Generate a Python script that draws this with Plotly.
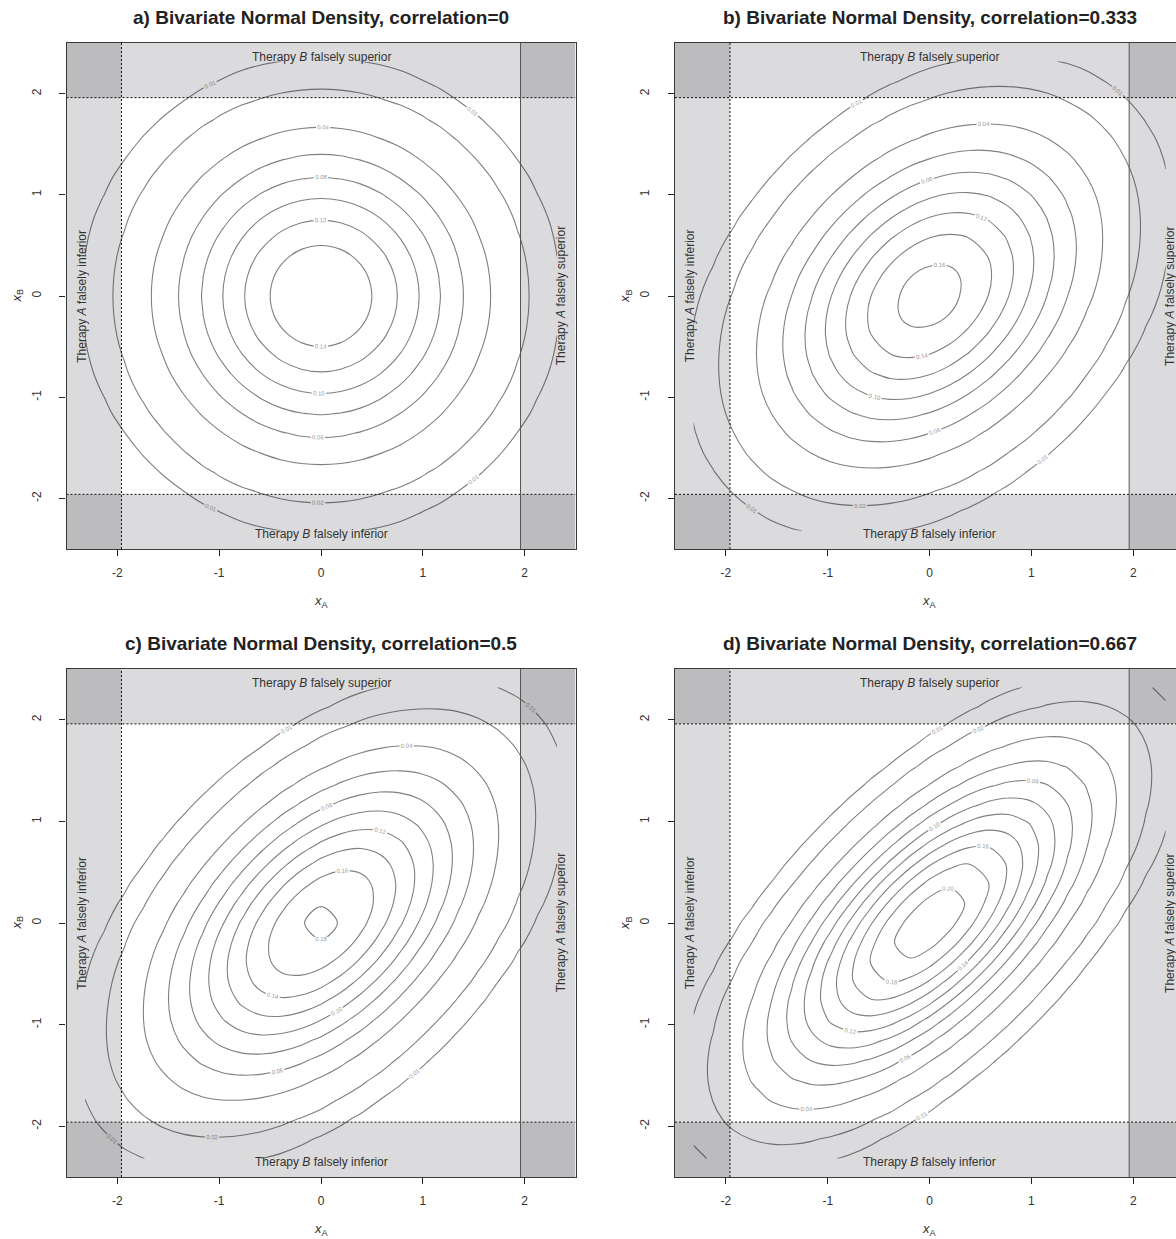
import numpy as np
import plotly.graph_objects as go

# ---------------- data ----------------
correlations = [0.0, 0.333, 0.5, 0.667]
panel_titles = [
    "a) Bivariate Normal Density, correlation=0",
    "b) Bivariate Normal Density, correlation=0.333",
    "c) Bivariate Normal Density, correlation=0.5",
    "d) Bivariate Normal Density, correlation=0.667",
]
outer_level = 0.01                       # single outer contour
inner_levels = [0.02, 0.20, 0.02]        # start, end, step
critical = 1.96
tick_vals = [-2, -1, 0, 1, 2]
tick_text = ["-2", "-1", "0", "1", "2"]
grid_limit = 2.32                         # density evaluated on [-2.32, 2.32]
grid_points = 25
region_labels = {
    "top": "Therapy <i>B</i> falsely superior",
    "bottom": "Therapy <i>B</i> falsely inferior",
    "left": "Therapy <i>A</i> falsely inferior",
    "right": "Therapy <i>A</i> falsely superior",
}

W, H = 1176, 1239
FONT = "Liberation Sans, Arial, sans-serif"
LINE_COL = "#808080"

# panel pixel geometry: (left, right, top, bottom)
panels_px = [
    (66.5, 575.5, 43, 549),
    (675.0, 1176.0, 43, 549),
    (66.5, 575.5, 669, 1177),
    (675.0, 1176.0, 669, 1177),
]
x_ranges = [[-2.5, 2.5], [-2.5, 2.42], [-2.5, 2.5], [-2.5, 2.42]]

grid_vals = np.linspace(-grid_limit, grid_limit, grid_points)


def density(rho):
    X, Y = np.meshgrid(grid_vals, grid_vals)
    s = 1.0 - rho ** 2
    q = (X ** 2 - 2 * rho * X * Y + Y ** 2) / s
    return np.exp(-q / 2.0) / (2 * np.pi * np.sqrt(s))


fig = go.Figure()
layout = dict(
    width=W, height=H, margin=dict(l=0, r=0, t=0, b=0),
    paper_bgcolor="white", plot_bgcolor="white", showlegend=False,
    font=dict(family=FONT, color="#333"),
)
shapes, annotations = [], []

for i, rho in enumerate(correlations):
    k = i + 1
    xa = "x" if k == 1 else f"x{k}"
    ya = "y" if k == 1 else f"y{k}"
    l, r, t, b = panels_px[i]
    right_col = i in (1, 3)
    z = density(rho)
    common = dict(
        x=grid_vals, y=grid_vals, z=z, xaxis=xa, yaxis=ya,
        showscale=False,
        colorscale=[[0, LINE_COL], [1, LINE_COL]],
        line=dict(width=1.1), hoverinfo="skip",
    )
    lab = dict(size=6, color="#999", family=FONT)
    fig.add_trace(go.Contour(
        contours=dict(start=outer_level, end=outer_level, size=1,
                      coloring="lines", showlabels=True,
                      labelfont=lab, labelformat=".2f"),
        **common))
    fig.add_trace(go.Contour(
        contours=dict(start=inner_levels[0], end=inner_levels[1] + 1e-9,
                      size=inner_levels[2], coloring="lines", showlabels=True,
                      labelfont=lab, labelformat=".2f"),
        **common))

    axkey_x = "xaxis" if k == 1 else f"xaxis{k}"
    axkey_y = "yaxis" if k == 1 else f"yaxis{k}"
    layout[axkey_x] = dict(
        domain=[l / W, r / W], anchor=ya, range=x_ranges[i],
        showgrid=False, zeroline=False, ticks="outside", ticklen=6,
        tickcolor="#222", tickvals=tick_vals, ticktext=tick_text,
        tickfont=dict(family=FONT, size=12, color="#333"),
        showline=True, linecolor="#3a3a3a", linewidth=1.2, mirror=True,
        ticklabelstandoff=6,
    )
    layout[axkey_y] = dict(
        domain=[1 - b / H, 1 - t / H], anchor=xa, range=[-2.5, 2.5],
        showgrid=False, zeroline=False, ticks="outside", ticklen=6,
        tickcolor="#222", tickvals=tick_vals, ticktext=tick_text,
        tickangle=-90,
        tickfont=dict(family=FONT, size=12, color="#333"),
        showline=True, linecolor="#3a3a3a", linewidth=1.2,
        mirror=(not right_col), ticklabelstandoff=14,
    )

    xmax = 2.5
    band = dict(type="rect", xref=xa, yref=ya, layer="above",
                fillcolor="rgba(0,0,15,0.14)", line=dict(width=0))
    shapes += [
        dict(band, x0=-2.5, x1=xmax, y0=critical, y1=2.5),
        dict(band, x0=-2.5, x1=xmax, y0=-2.5, y1=-critical),
        dict(band, x0=-2.5, x1=-critical, y0=-2.5, y1=2.5),
        dict(band, x0=critical, x1=xmax, y0=-2.5, y1=2.5),
    ]
    dot = dict(type="line", xref=xa, yref=ya, layer="above",
               line=dict(color="#111", width=1, dash="2px,2px"))
    shapes += [
        dict(dot, x0=-2.5, x1=xmax, y0=critical, y1=critical),
        dict(dot, x0=-2.5, x1=xmax, y0=-critical, y1=-critical),
        dict(dot, x0=-critical, x1=-critical, y0=-2.5, y1=2.5),
        dict(type="line", xref=xa, yref=ya, layer="above",
             x0=critical, x1=critical, y0=-2.5, y1=2.5,
             line=dict(color="#555", width=1)),
    ]

    tf = dict(family=FONT, size=12, color="#333")
    annotations += [
        dict(xref=xa, yref=ya, x=0, y=2.36, text=region_labels["top"],
             showarrow=False, font=tf),
        dict(xref=xa, yref=ya, x=0, y=-2.35, text=region_labels["bottom"],
             showarrow=False, font=tf),
        dict(xref=xa, yref=ya, x=-2.35, y=0, text=region_labels["left"],
             showarrow=False, font=tf, textangle=-90),
        dict(xref=xa, yref=ya, x=2.36, y=0, text=region_labels["right"],
             showarrow=False, font=tf, textangle=-90),
    ]
    # panel title
    annotations.append(dict(
        xref=xa, yref="paper", x=0, y=1 - (t - 26) / H, yanchor="middle",
        text="<b>" + panel_titles[i] + "</b>", showarrow=False,
        font=dict(family=FONT, size=19, color="#222")))
    # axis titles
    annotations.append(dict(
        xref=xa, yref="paper", x=0, y=1 - (b + 52) / H, yanchor="middle",
        text="<i>x</i><sub>A</sub>", showarrow=False,
        font=dict(family=FONT, size=13, color="#333")))
    annotations.append(dict(
        xref="paper", yref=ya, x=(l - 50) / W, y=0, xanchor="center",
        text="<i>x</i><sub>B</sub>", showarrow=False, textangle=-90,
        font=dict(family=FONT, size=13, color="#333")))

layout["shapes"] = shapes
layout["annotations"] = annotations
fig.update_layout(**layout)

fig.write_html("out.html", config={"displayModeBar": False},
               post_script="document.body.style.margin='0';document.body.style.overflow='hidden';")
